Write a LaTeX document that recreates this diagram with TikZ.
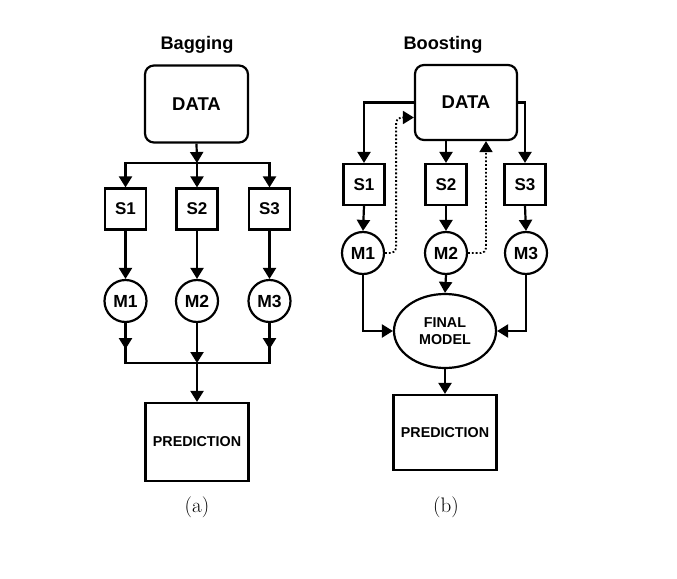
\documentclass[tikz,border=0pt]{standalone}
\usepackage{fontspec}
\setsansfont{Liberation Sans}
\usetikzlibrary{arrows.meta,shapes.geometric,calc}
\tikzset{
  lw/.style={line width=2.2pt},
  arr/.style={lw,-{Triangle[length=11pt,width=13pt]}},
  dotarr/.style={line width=1.8pt,dotted,rounded corners=5pt,-{Triangle[length=11pt,width=13pt]}},
  databox/.style={draw,lw,rounded corners=9pt,minimum width=103pt,minimum height=77pt,font=\sffamily\bfseries\fontsize{18.5}{20}\selectfont,inner sep=0pt},
  sbox/.style={draw,lw,minimum width=41pt,minimum height=41pt,font=\sffamily\bfseries\fontsize{17}{19}\selectfont,inner sep=0pt},
  mcirc/.style={draw,lw,circle,minimum size=42pt,font=\sffamily\bfseries\fontsize{17.5}{19}\selectfont,inner sep=0pt},
  predbox/.style={draw,lw,minimum width=103pt,font=\sffamily\bfseries\fontsize{14.3}{16}\selectfont,inner sep=0pt},
  titl/.style={font=\sffamily\bfseries\fontsize{18.2}{20}\selectfont},
  capt/.style={font=\fontsize{21}{23}\selectfont},
}
\begin{document}
\begin{tikzpicture}[x=1pt,y=-1pt]
\useasboundingbox (0,0) rectangle (677,578);
% ---------- Bagging ----------
\node[titl] (tA) at (197,45) {Bagging};
\node[databox] (DA) at (196.5,104) {DATA};
\node[sbox] (S1A) at (125.5,209) {S1};
\node[sbox] (S2A) at (197,209) {S2};
\node[sbox] (S3A) at (269.5,209) {S3};
\node[mcirc] (M1A) at (125.5,301) {M1};
\node[mcirc] (M2A) at (197,301) {M2};
\node[mcirc] (M3A) at (269.5,301) {M3};
\node[predbox,minimum height=78pt] (PA) at (197,442) {PREDICTION};
\node[capt] (cA) at (197,507) {(a)};
\coordinate (J1) at (197,163);
\coordinate (J2) at (197,363);
\draw[arr] (DA.south) -- (J1);
\draw[lw] (S1A.north |- J1) -- (S3A.north |- J1);
\draw[arr] (J1) -| (S1A.north);
\draw[arr] (J1) -- (S2A.north);
\draw[arr] (J1) -| (S3A.north);
\draw[arr] (S1A.south) -- (M1A.north);
\draw[arr] (S2A.south) -- (M2A.north);
\draw[arr] (S3A.south) -- (M3A.north);
\draw[arr] (M1A.south) -- ++(0,26);
\draw[arr] (M3A.south) -- ++(0,26);
\draw[lw] (M1A.south) -- (M1A.south |- J2) -- (M3A.south |- J2) -- (M3A.south);
\draw[arr] (M2A.south) -- (J2);
\draw[arr] (J2) -- (PA.north);
% ---------- Boosting ----------
\node[titl] (tB) at (443,45) {Boosting};
\node[databox,minimum height=75pt,minimum width=102pt] (DB) at (466,102.5) {DATA};
\node[sbox] (S1B) at (364,184.5) {S1};
\node[sbox] (S2B) at (446,184.5) {S2};
\node[sbox] (S3B) at (525,184.5) {S3};
\node[mcirc] (M1B) at (363,253) {M1};
\node[mcirc] (M2B) at (446,253) {M2};
\node[mcirc] (M3B) at (526,253) {M3};
\node[draw,lw,ellipse,minimum width=102pt,minimum height=74pt,inner sep=0pt,align=center,font=\sffamily\bfseries\fontsize{14.3}{17}\selectfont] (FB) at (445,331) {FINAL\\MODEL};
\node[predbox,minimum height=75pt] (PB) at (445,432.5) {PREDICTION};
\node[capt] (cB) at (446,507) {(b)};
\draw[arr] (DB.west) -| (S1B.north);
\draw[arr] (DB.east) -| (S3B.north);
\draw[arr] (DB.south -| S2B) -- (S2B.north);
\draw[arr] (S1B.south) -- (M1B.north);
\draw[arr] (S2B.south) -- (M2B.north);
\draw[arr] (S3B.south) -- (M3B.north);
\draw[dotarr] (M1B.east) -- ++(11,0) |- ([yshift=-15pt]DB.west);
\draw[dotarr] (M2B.east) -| ([xshift=20pt]DB.south);
\draw[arr] (M2B.south) -- (FB.north);
\draw[arr] (M1B.south) |- (FB.west);
\draw[arr] (M3B.south) |- (FB.east);
\draw[arr] (FB.south) -- (PB.north);
\end{tikzpicture}
\end{document}
